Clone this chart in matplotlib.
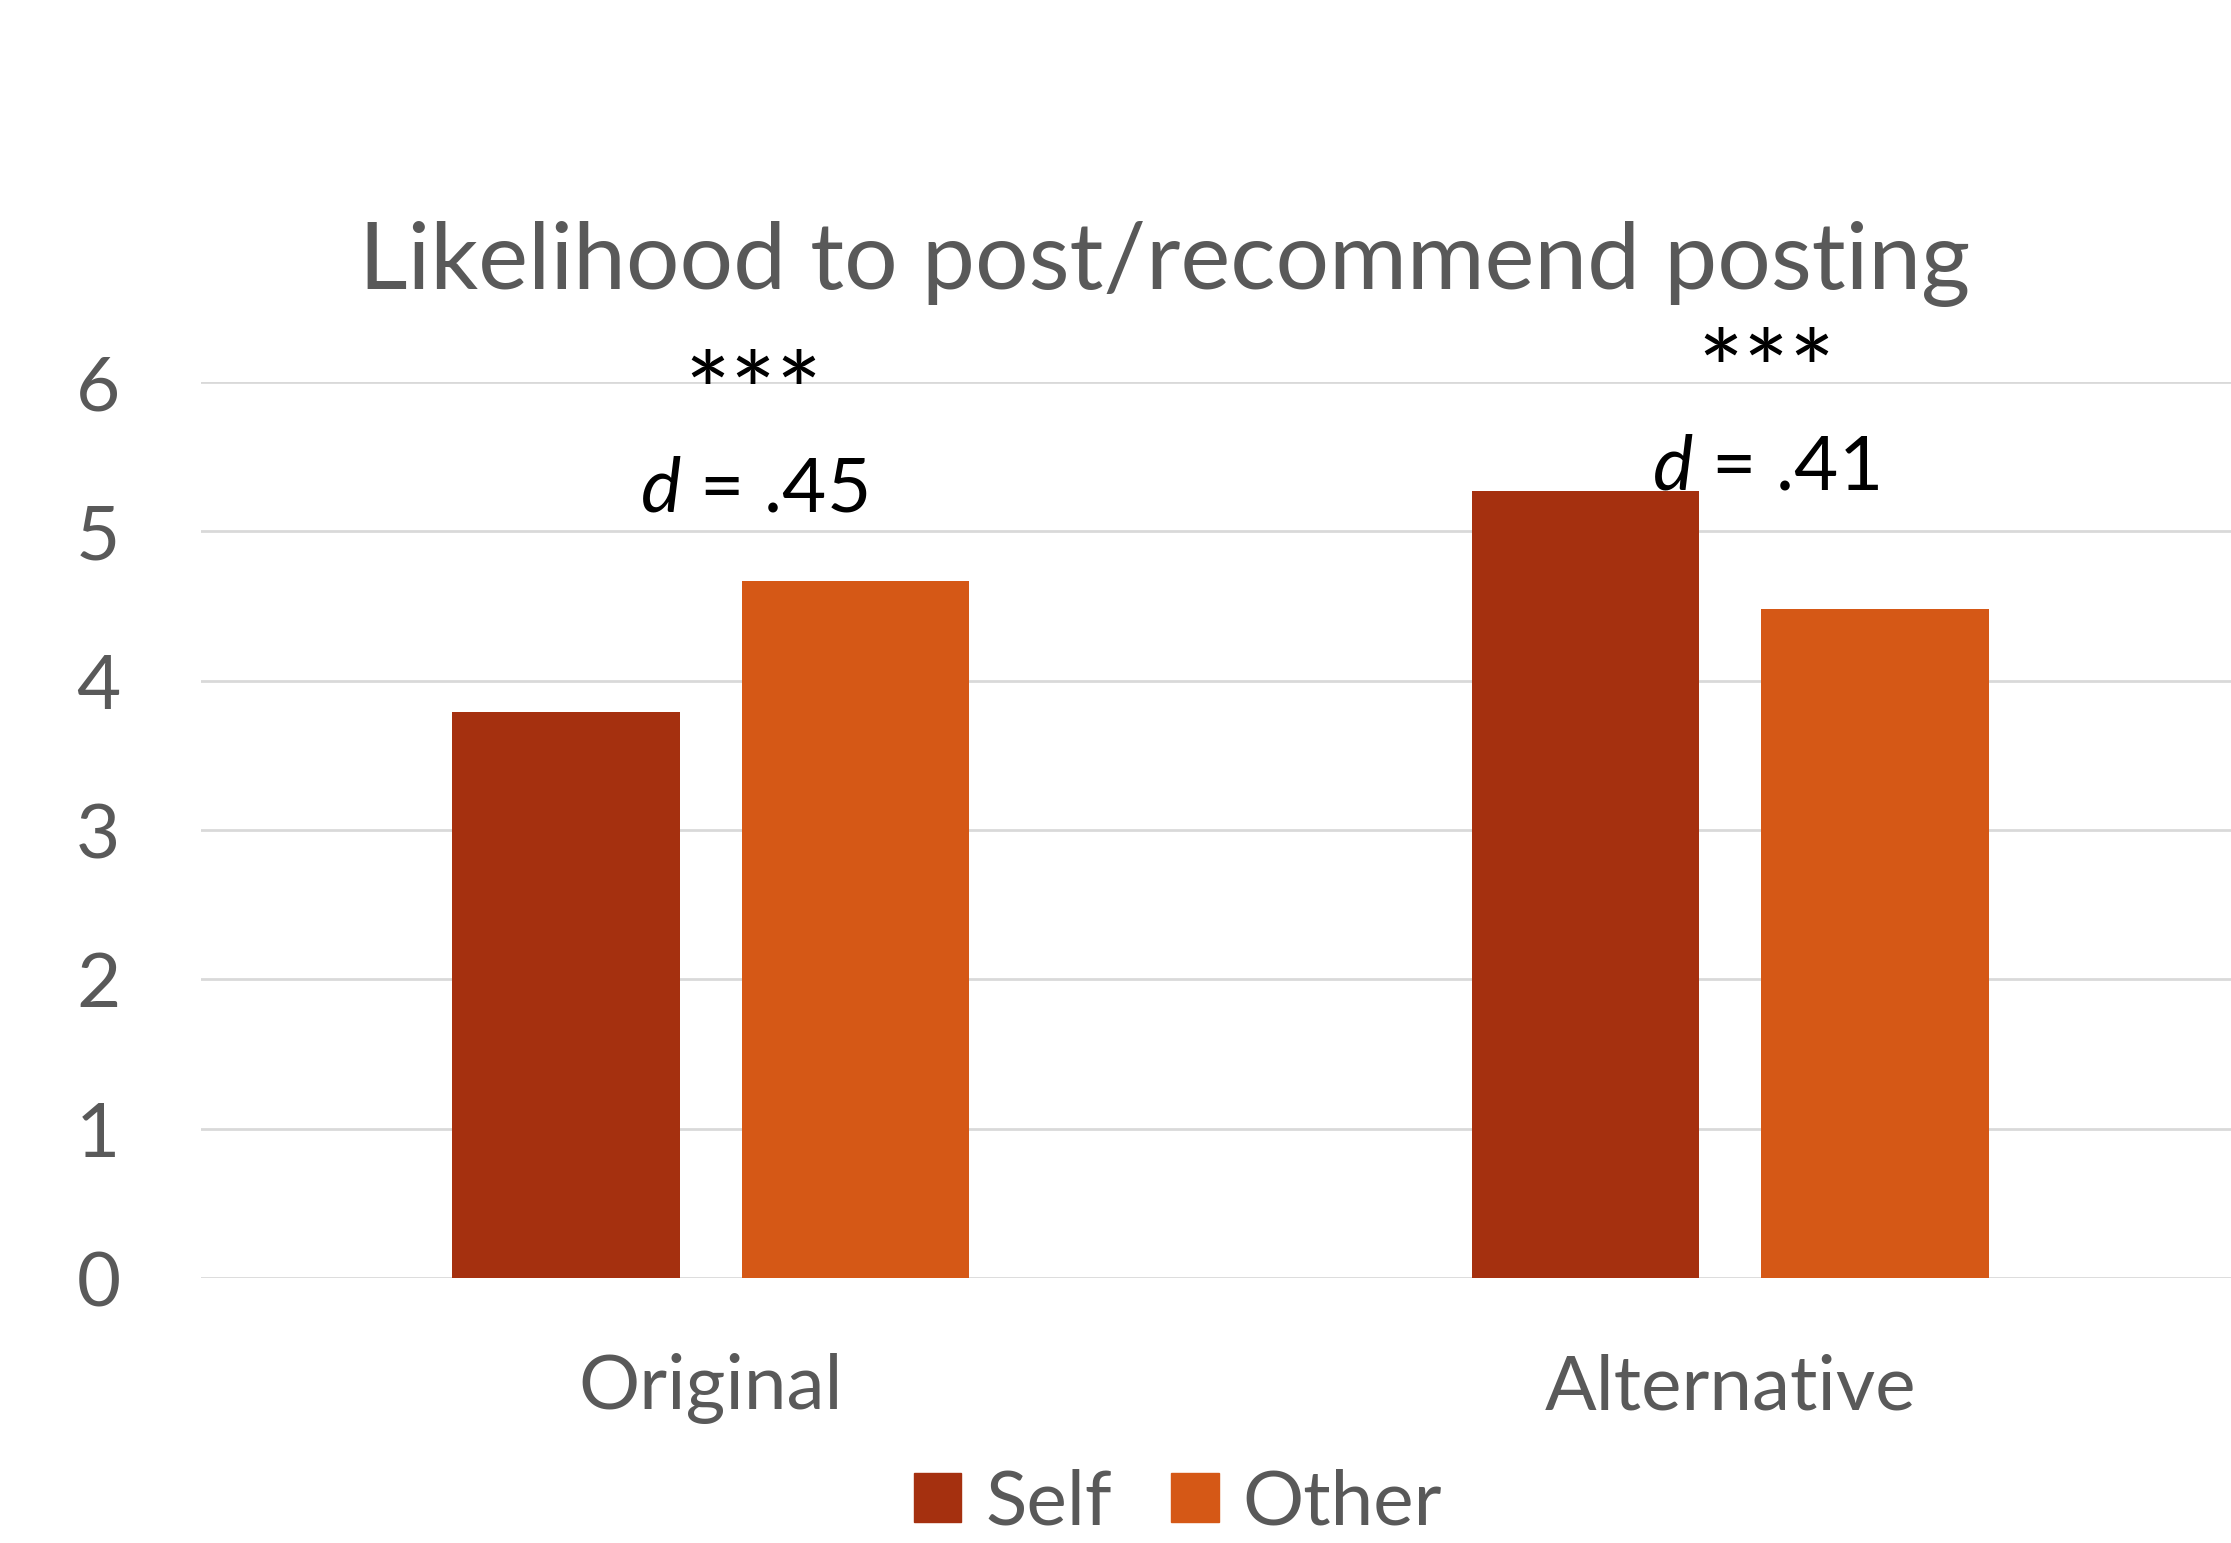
import matplotlib
matplotlib.use('Agg')
import matplotlib.pyplot as plt
import numpy as np
from matplotlib.patches import Patch

plt.rcParams['font.family'] = ['Lato', 'DejaVu Sans']
plt.rcParams['mathtext.fontset'] = 'custom'
plt.rcParams['mathtext.it'] = 'Lato:italic'
plt.rcParams['mathtext.rm'] = 'Lato'

categories = ['Original', 'Alternative']
series = ['Self', 'Other']
self_vals = [3.79, 5.27]
other_vals = [4.67, 4.48]
effect_labels = ['$d$ = .45', '$d$ = .41']
stars = ['***', '***']
colors = ['#A5300F', '#D55816']
GRAY = '#595959'

fig = plt.figure(figsize=(22.31, 15.43), dpi=100)
ax = fig.add_axes([201 / 2231, 0.1717, 2039 / 2231, 0.5807])

x = np.arange(len(categories))
width = 0.2235
offset = 0.142
ax.bar(x - offset, self_vals, width, color=colors[0], zorder=2)
ax.bar(x + offset, other_vals, width, color=colors[1], zorder=2)

ax.set_xlim(-0.5, 1.5)
ax.set_ylim(0, 6)
ax.set_yticks(range(7))
ax.yaxis.grid(True, color='#D9D9D9', linewidth=2, zorder=0)
for s in ax.spines.values():
    s.set_visible(False)
ax.tick_params(axis='y', length=0, pad=58, labelsize=55, labelcolor=GRAY)
ax.tick_params(axis='x', length=0, pad=54, labelsize=55, labelcolor=GRAY)
ax.set_xticks(x)
ax.set_xticklabels(categories)

# significance annotations
star_y = [5.67, 5.82]
d_y = [5.13, 5.28]
shifts = [0.042, 0.035]
for i in range(len(categories)):
    ax.text(x[i] + shifts[i], star_y[i], stars[i], ha='center', va='baseline',
            fontsize=78, color='black')
    ax.text(x[i] + shifts[i], d_y[i], effect_labels[i], ha='center', va='baseline',
            fontsize=55, color='black')

fig.text(1165 / 2231, 0.8127, 'Likelihood to post/recommend posting',
         ha='center', va='baseline', fontsize=68, color=GRAY)

handles = [Patch(color=c) for c in colors]
fig.legend(handles, series, loc='center', bbox_to_anchor=(1178 / 2231, 40 / 1543),
           ncol=2, frameon=False, fontsize=55, labelcolor=GRAY, borderpad=0,
           handlelength=0.62, handleheight=0.62, handletextpad=0.31,
           columnspacing=0.78)

fig.savefig('out.png', dpi=100)
